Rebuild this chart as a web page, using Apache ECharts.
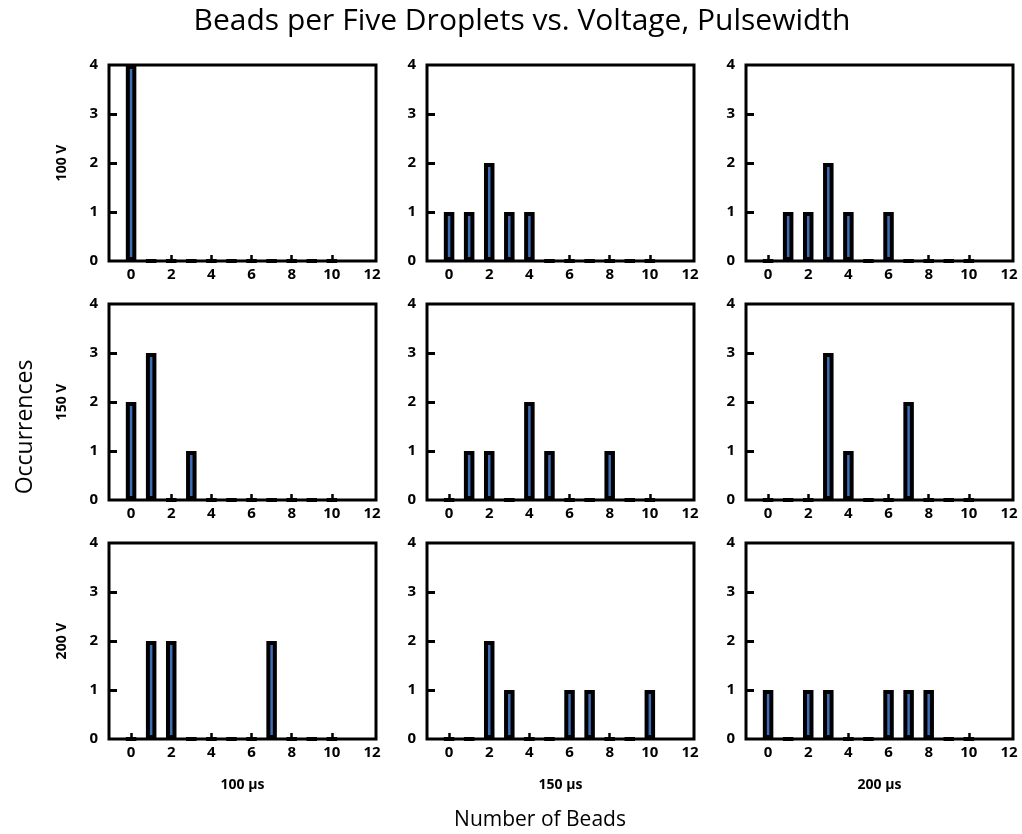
<!DOCTYPE html>
<html>
<head>
<meta charset="utf-8">
<title>Beads per Five Droplets vs. Voltage, Pulsewidth</title>
<script src="https://cdn.jsdelivr.net/npm/echarts@6/dist/echarts.min.js"></script>
<style>
  html, body { margin: 0; padding: 0; background: #fff; }
  #chart { width: 1022px; height: 834px; }
</style>
</head>
<body>
<div id="chart"></div>
<script>
// x positions: number of beads
const beads = [0, 1, 2, 3, 4, 5, 6, 7, 8, 9, 10];
const xTickLabels = [0, 2, 4, 6, 8, 10, 12];
const xTickMarks = [0, 2, 4, 6, 8, 10];
const yTickMarks = [1, 2, 3];
const voltages = ["100 V", "150 V", "200 V"];
const pulsewidths = ["100 µs", "150 µs", "200 µs"];

// occurrences per bead count, one array per voltage / pulsewidth
const v100p100 = [4, 0, 0, 0, 0, 0, 0, 0, 0, 0, 0];
const v100p150 = [1, 1, 2, 1, 1, 0, 0, 0, 0, 0, 0];
const v100p200 = [0, 1, 1, 2, 1, 0, 1, 0, 0, 0, 0];
const v150p100 = [2, 3, 0, 1, 0, 0, 0, 0, 0, 0, 0];
const v150p150 = [0, 1, 1, 0, 2, 1, 0, 0, 1, 0, 0];
const v150p200 = [0, 0, 0, 3, 1, 0, 0, 2, 0, 0, 0];
const v200p100 = [0, 2, 2, 0, 0, 0, 0, 2, 0, 0, 0];
const v200p150 = [0, 0, 2, 1, 0, 0, 1, 1, 0, 0, 1];
const v200p200 = [1, 0, 1, 1, 0, 0, 1, 1, 1, 0, 0];

const panels = [
  [v100p100, v100p150, v100p200],
  [v150p100, v150p150, v150p200],
  [v200p100, v200p150, v200p200],
];

const font = '"Open Sans", "DejaVu Sans", sans-serif';
const colLeft = [109, 427, 746];
const rowTop = [65, 304, 543];
const boxW = 267;
const boxH = 196;

const grid = [];
const xAxis = [];
const yAxis = [];
const series = [];

panels.forEach((row, r) => {
  row.forEach((values, c) => {
    const i = grid.length;
    grid.push({
      left: colLeft[c],
      top: rowTop[r],
      width: boxW,
      height: boxH,
      show: true,
      borderColor: "#000",
      borderWidth: 3,
      backgroundColor: "transparent",
    });
    xAxis.push({
      type: "value",
      gridIndex: i,
      min: -1.1,
      max: 12.2,
      splitLine: { show: false },
      axisLine: { show: false, onZero: false },
      axisTick: {
        show: true,
        inside: true,
        length: 6,
        customValues: xTickMarks,
        lineStyle: { color: "#000", width: 2.5 },
      },
      axisLabel: {
        customValues: xTickLabels,
        color: "#000",
        fontFamily: font,
        fontWeight: "bold",
        fontSize: 15,
        margin: 6,
      },
      name: r === 2 ? pulsewidths[c] : "",
      nameLocation: "middle",
      nameGap: 39,
      nameTextStyle: { color: "#000", fontFamily: font, fontWeight: "bold", fontSize: 14 },
    });
    yAxis.push({
      type: "value",
      gridIndex: i,
      min: 0,
      max: 4,
      interval: 1,
      splitLine: { show: false },
      axisLine: { show: false, onZero: false },
      axisTick: {
        show: true,
        inside: true,
        length: 8,
        customValues: yTickMarks,
        lineStyle: { color: "#000", width: 3 },
      },
      axisLabel: {
        color: "#000",
        fontFamily: font,
        fontWeight: "bold",
        fontSize: 15,
        margin: 11,
      },
      name: c === 0 ? voltages[r] : "",
      nameLocation: "middle",
      nameGap: 40,
      nameTextStyle: { color: "#000", fontFamily: font, fontWeight: "bold", fontSize: 14 },
    });
    series.push({
      type: "bar",
      xAxisIndex: i,
      yAxisIndex: i,
      barWidth: 10.5,
      data: beads.map((b, k) => [b, values[k]]),
      itemStyle: {
        color: "#3d6db6",
        borderColor: "#000",
        borderWidth: 4,
      },
      silent: true,
    });
  });
});

const myChart = echarts.init(document.getElementById("chart"));
myChart.setOption({
  backgroundColor: "#fff",
  animation: false,
  grid,
  xAxis,
  yAxis,
  series,
  graphic: [
    {
      type: "text",
      x: 522,
      y: 21,
      style: {
        text: "Beads per Five Droplets vs. Voltage, Pulsewidth",
        fontFamily: font,
        fontSize: 30,
        fill: "#000",
        align: "center",
        verticalAlign: "middle",
      },
    },
    {
      type: "text",
      x: 25,
      y: 427,
      rotation: Math.PI / 2,
      style: {
        text: "Occurrences",
        fontFamily: font,
        fontSize: 23,
        fill: "#000",
        align: "center",
        verticalAlign: "middle",
      },
    },
    {
      type: "text",
      x: 540,
      y: 820,
      style: {
        text: "Number of Beads",
        fontFamily: font,
        fontSize: 21,
        fill: "#000",
        align: "center",
        verticalAlign: "middle",
      },
    },
  ],
});
</script>
</body>
</html>
